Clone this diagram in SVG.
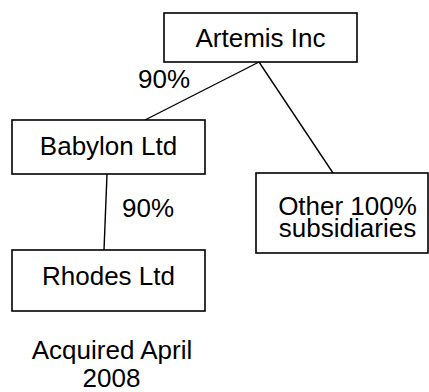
<svg xmlns="http://www.w3.org/2000/svg" width="429" height="392" viewBox="0 0 429 392">
<style>
.box{fill:#fff;stroke:#000;stroke-width:1.6}
.ln{stroke:#000;stroke-width:1.4;fill:none}
text{font-family:"Liberation Sans",Arial,sans-serif;font-size:26px;fill:#000;text-anchor:middle}
</style>
<rect width="429" height="392" fill="#fff"/>
<g id="connectors">
<line class="ln" x1="259" y1="62" x2="145" y2="120"/>
<line class="ln" x1="259" y1="62" x2="333" y2="173"/>
<line class="ln" x1="107" y1="174" x2="104" y2="250"/>
<text x="164" y="88">90%</text>
<text x="148" y="217">90%</text>
</g>
<g id="artemis">
<rect class="box" x="164" y="13" width="193" height="49"/>
<text x="260.5" y="47">Artemis Inc</text>
</g>
<g id="babylon">
<rect class="box" x="12" y="120" width="193" height="54"/>
<text x="108.5" y="155">Babylon Ltd</text>
</g>
<g id="other">
<rect class="box" x="256" y="173" width="172" height="80"/>
<text x="347.5" y="215">Other 100%</text>
<text x="347.5" y="237">subsidiaries</text>
</g>
<g id="rhodes">
<rect class="box" x="12" y="250" width="193" height="61"/>
<text x="108.5" y="285">Rhodes Ltd</text>
</g>
<g id="note">
<text x="112" y="359">Acquired April</text>
<text x="111.5" y="387">2008</text>
</g>
</svg>
